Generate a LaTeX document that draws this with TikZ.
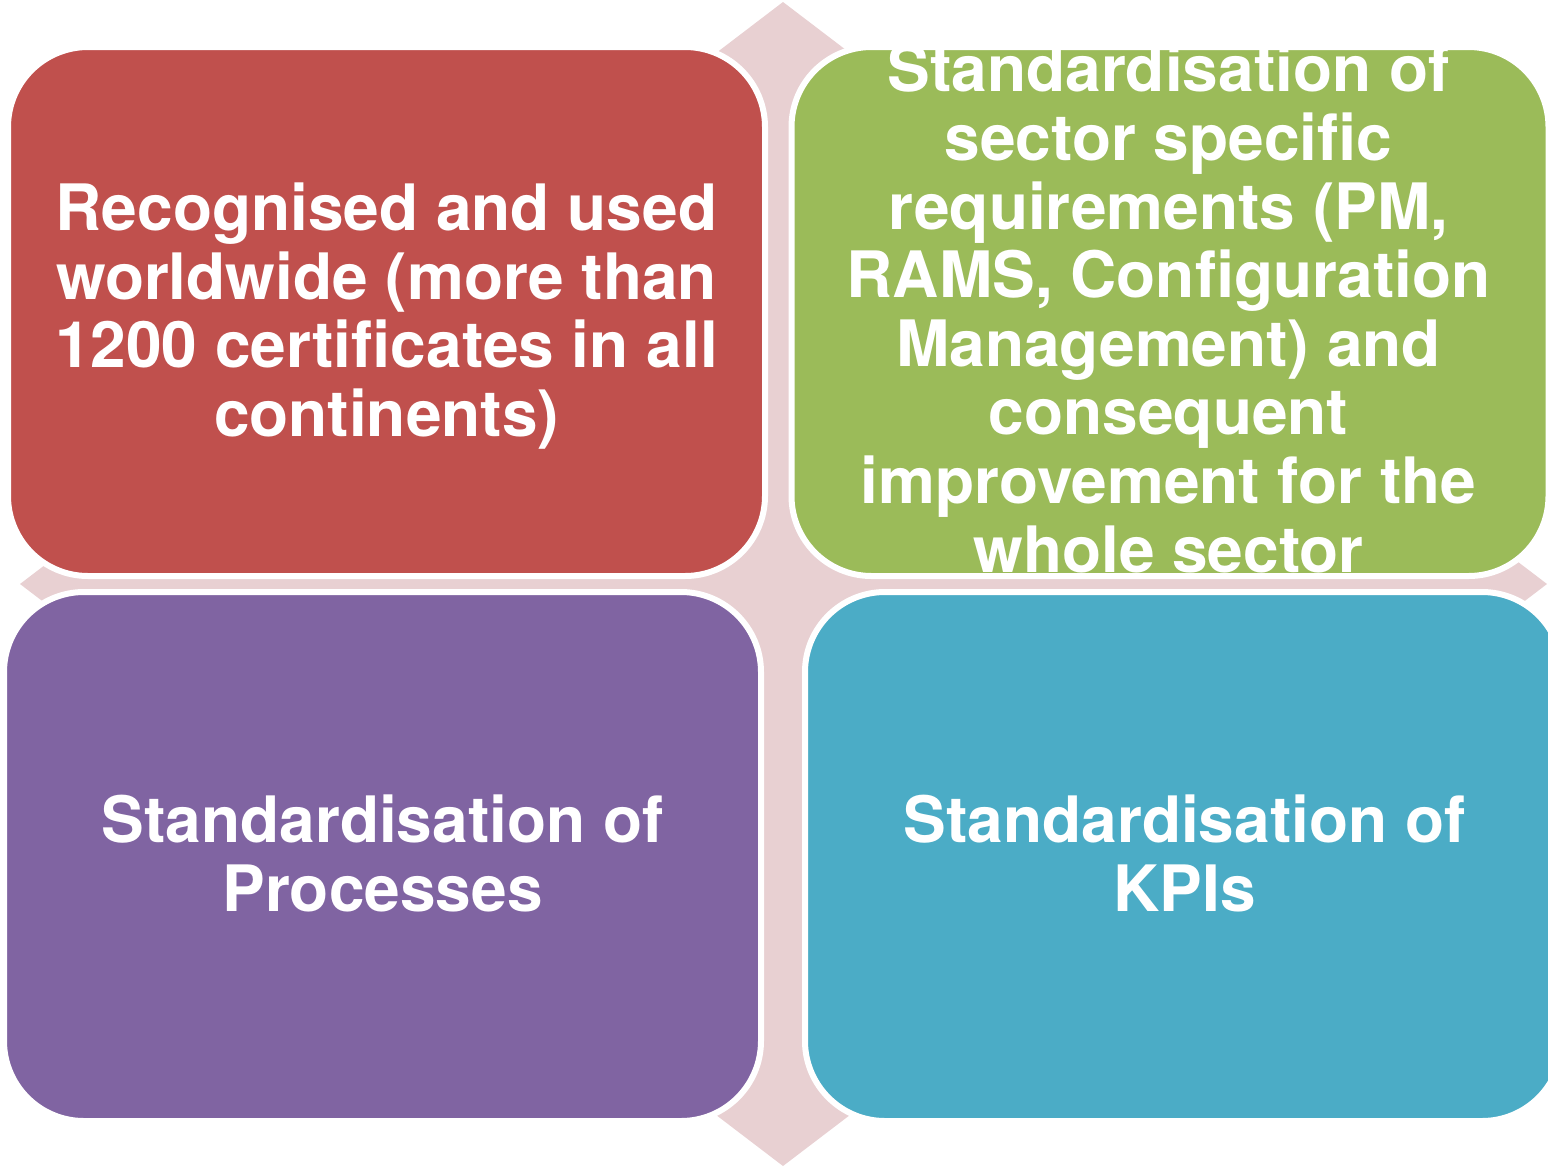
\documentclass[tikz,border=0pt]{standalone}
\usepackage{fontspec}
\setmainfont{TeX Gyre Heros}
\definecolor{cRed}{HTML}{C0504D}
\definecolor{cGreen}{HTML}{9BBB59}
\definecolor{cPurple}{HTML}{8064A2}
\definecolor{cBlue}{HTML}{4BACC6}
\definecolor{cPink}{HTML}{E8D0D2}
\begin{document}
\begin{tikzpicture}[x=0.5pt,y=-0.5pt,
  box/.style={draw=white, line width=3pt, rounded corners=40pt,
    minimum width=378.5pt, minimum height=264.5pt, inner sep=0pt},
  txt/.style={text=white, font=\bfseries\fontsize{32}{34.3}\selectfont,
    align=center, inner sep=0pt}]
\useasboundingbox (0,0) rectangle (1548,1168);
% background diamond
\fill[cPink] (783,2) -- (1547,584) -- (783,1166) -- (20,584) -- cycle;
% boxes
\node[box, fill=cRed] (boxR) at (386.5,311.5) {};
\node[box, fill=cGreen] (boxG) at (1170,311.5) {};
\node[box, fill=cPurple] (boxP) at (382.5,856.5) {};
\node[box, fill=cBlue] (boxB) at (1183.5,856.5) {};
% texts
\node[txt] (txtR) at (386.5,316) {Recognised and used\\worldwide (more than\\1200 certificates in all\\continents)};
\begin{scope}
  \clip ([yshift=-1.5pt]boxG.north west) rectangle ([yshift=-30pt]boxG.south east);
  \node[txt] (txtG) at (1168.5,308.5) {Standardisation of\\sector specific\\requirements (PM,\\RAMS, Configuration\\Management) and\\consequent\\improvement for the\\whole sector};
\end{scope}
\node[txt] (txtP) at (382.5,853.5) {Standardisation of\\Processes};
\node[txt] (txtB) at (1184.5,853.5) {Standardisation of\\KPIs};
\end{tikzpicture}
\end{document}
